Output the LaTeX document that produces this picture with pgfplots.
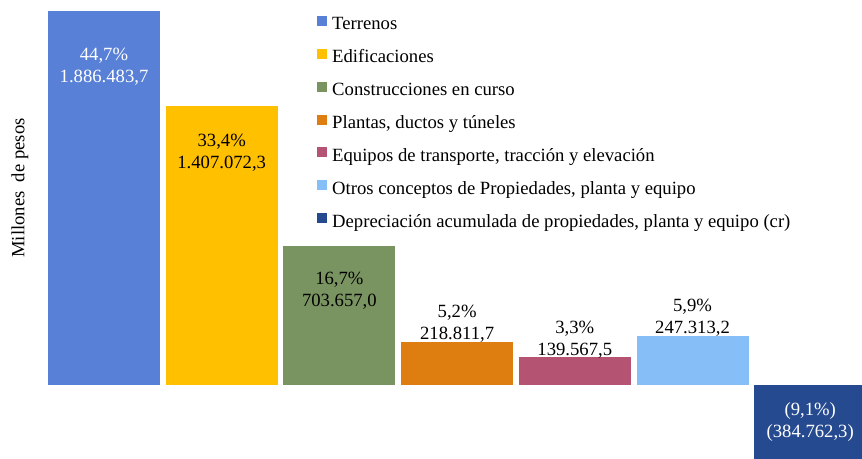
\documentclass[border=0pt]{standalone}
\usepackage{pgfplots}
\pgfplotsset{compat=1.18}
\usepackage{fontspec}
\setmainfont{Liberation Serif}

\definecolor{cTer}{HTML}{5880D7}
\definecolor{cEdi}{HTML}{FFC000}
\definecolor{cCon}{HTML}{7A9461}
\definecolor{cPla}{HTML}{DF7E10}
\definecolor{cEqu}{HTML}{B55372}
\definecolor{cOtr}{HTML}{86BFF8}
\definecolor{cDep}{HTML}{264A8F}

\pgfplotsset{
  mybar/.style={ybar, fill=#1, draw=none, bar width=84pt, bar shift=0pt},
  lbl/.style n args={3}{nodes near coords={#3},
    every node near coord/.append style={anchor=center, align=center,
      yshift=#1, text=#2, font=\fontsize{14}{16.5}\selectfont}},
}

\begin{document}
\begin{tikzpicture}[font=\fontsize{14}{16.5}\selectfont]
\begin{axis}[
  scale only axis,
  width=646.5pt, height=343.5pt,
  xmin=-0.8836, xmax=6.440,
  ymin=-368200, ymax=1942000,
  clip=false,
  axis line style={draw=none},
  ticks=none,
  legend style={at={(0.3677,0.9657)}, anchor=north west, draw=none, fill=none,
    inner sep=0pt, row sep=11.15pt, column sep=3.75pt,
    nodes={inner sep=0pt, text height=10pt, text depth=3pt,
      font=\fontsize{14}{16.5}\selectfont}},
  legend cell align=left,
  legend image code/.code={\fill[#1, draw=none] (0pt,-0.5pt) rectangle (7.5pt,7pt);},
]
\addplot[mybar=cTer, lbl={-41.5pt}{white}{44,7\%\\1.886.483,7}]
  coordinates {(0,1886483.7)};
\addplot[mybar=cEdi, lbl={-35.25pt}{black}{33,4\%\\1.407.072,3}]
  coordinates {(1,1407072.3)};
\addplot[mybar=cCon, lbl={-34pt}{black}{16,7\%\\703.657,0}]
  coordinates {(2,703657.0)};
\addplot[mybar=cPla, lbl={13.5pt}{black}{5,2\%\\218.811,7}]
  coordinates {(3,218811.7)};
\addplot[mybar=cEqu, lbl={13.5pt}{black}{3,3\%\\139.567,5}]
  coordinates {(4,139567.5)};
\addplot[mybar=cOtr, lbl={13.5pt}{black}{5,9\%\\247.313,2}]
  coordinates {(5,247313.2)};
\addplot[mybar=cDep, lbl={29.5pt}{white}{(9,1\%)\\(384.762,3)}]
  coordinates {(6,-384762.3)};
\legend{Terrenos, Edificaciones, Construcciones en curso,
  {Plantas, ductos y túneles},
  {Equipos de transporte, tracción y elevación},
  {Otros conceptos de Propiedades, planta y equipo},
  {Depreciación acumulada de propiedades, planta y equipo (cr)}}
\node[rotate=90, font=\fontsize{14}{16}\selectfont] at (rel axis cs:0.0232,0.5895) {Millones\ \ de pesos};
\end{axis}
\pgfresetboundingbox
\useasboundingbox (current axis.south west) rectangle (current axis.north east);
\end{tikzpicture}
\end{document}
